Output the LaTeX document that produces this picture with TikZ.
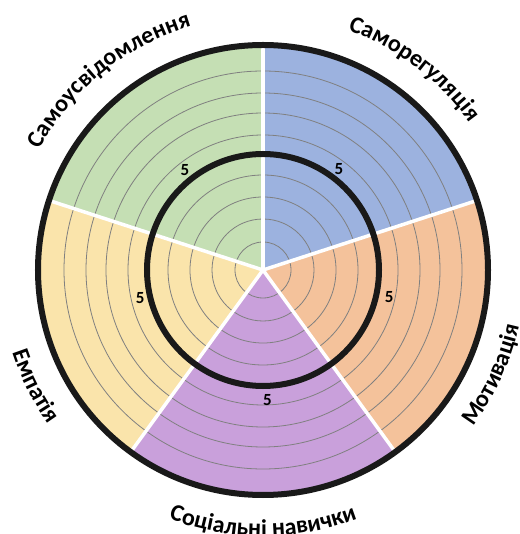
\documentclass[tikz,border=0pt]{standalone}
\usepackage{fontspec}
\setmainfont{Carlito}
\usetikzlibrary{decorations.text}

\definecolor{selfaware}{HTML}{C5DFB4}
\definecolor{selfreg}{HTML}{9CB2DF}
\definecolor{motivation}{HTML}{F4C29B}
\definecolor{social}{HTML}{C9A0DB}
\definecolor{empathy}{HTML}{FAE4AB}
\newcommand{\labelfont}{\fontsize{24}{24}\selectfont\bfseries}

\begin{document}
\begin{tikzpicture}[x=1pt, y=1pt,
    ring/.style={draw=gray, line width=0.8pt},
    rim/.style={draw=black!90, line width=6pt},
    spoke/.style={draw=white, line width=3.5pt},
    score/.style={font=\fontsize{17}{17}\selectfont\bfseries},
    arclabel/.style={decorate, decoration={text along path, text align=center, text={|\labelfont|#1}}}]
    \useasboundingbox (-263,-264) rectangle (256,270);

    \fill[selfaware] (0,0) -- (90:225) arc[start angle=90, end angle=162, radius=225] -- cycle;
    \fill[empathy] (0,0) -- (162:225) arc[start angle=162, end angle=234, radius=225] -- cycle;
    \fill[social] (0,0) -- (234:225) arc[start angle=234, end angle=306, radius=225] -- cycle;
    \fill[motivation] (0,0) -- (-54:225) arc[start angle=-54, end angle=18, radius=225] -- cycle;
    \fill[selfreg] (0,0) -- (18:225) arc[start angle=18, end angle=90, radius=225] -- cycle;

    \foreach \r in {28,51,73,95,135,157,177,199}
        \draw[ring] (0,0) circle[radius=\r];
    \foreach \a in {18,90,162,234,306}
        \draw[spoke] (0,0) -- (\a:225);
    \draw[rim] (0,0) circle[radius=116];
    \draw[rim] (0,0) circle[radius=225];

    \node[score] (scoreaware) at (128:127) {5};
    \node[score] (scorereg) at (53:126) {5};
    \node[score] (scoremot) at (-12:129) {5};
    \node[score] (scoresoc) at (-88:130) {5};
    \node[score] (scoreemp) at (193:126) {5};

    \path[arclabel=Самоусвідомлення] (170:254) arc[start angle=170, end angle=88, radius=254];
    \path[arclabel=Саморегуляція] (95:254) arc[start angle=95, end angle=11, radius=254];
    \path[arclabel=Мотивація] (-62:262) arc[start angle=-62, end angle=13, radius=262];
    \path[arclabel=Соціальні навички] (-140:266) arc[start angle=-140, end angle=-40, radius=266];
    \path[arclabel=Емпатія] (170:264) arc[start angle=170, end angle=244, radius=264];
\end{tikzpicture}
\end{document}
